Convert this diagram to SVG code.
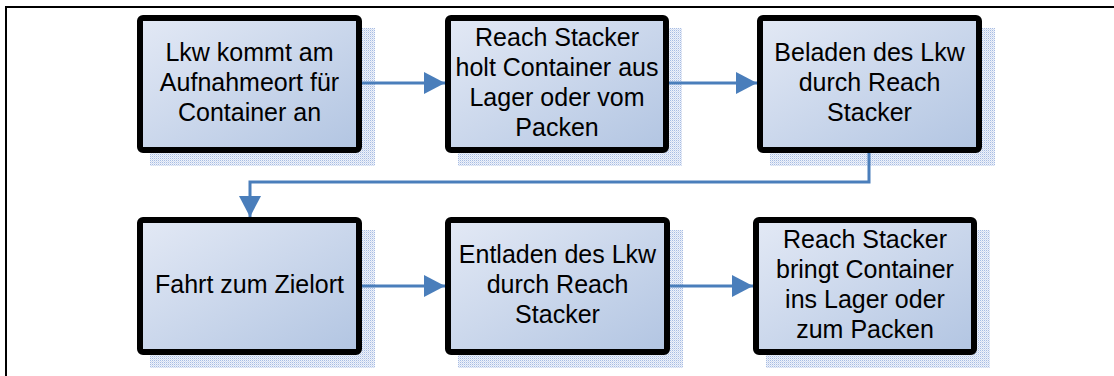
<svg xmlns="http://www.w3.org/2000/svg" width="1114" height="376" viewBox="0 0 1114 376">
  <style>
    .box { fill: url(#boxFill); stroke: #000; stroke-width: 6; }
    .shadow { fill: url(#dots); }
    .label { font-family: "Liberation Sans", Arial, sans-serif; font-size: 25px; fill: #000; text-anchor: middle; }
    .conn { fill: none; stroke: #4a7ebb; stroke-width: 3; marker-end: url(#arrow); }
    .frame { fill: none; stroke: #000; stroke-width: 2; }
  </style>
  <defs>
    <linearGradient id="boxFill" x1="0" y1="0" x2="1" y2="1">
      <stop offset="0" stop-color="#e3e9f5"/>
      <stop offset="1" stop-color="#b2c5e2"/>
    </linearGradient>
    <pattern id="dots" width="2" height="2" patternUnits="userSpaceOnUse">
      <rect width="2" height="2" fill="#eef2fa"/>
      <rect width="1" height="1" fill="#a7bce3"/>
      <rect x="1" y="1" width="1" height="1" fill="#d3ddf1"/>
    </pattern>
    <marker id="arrow" markerUnits="userSpaceOnUse" markerWidth="22" markerHeight="24" refX="21" refY="12" orient="auto">
      <path d="M0,1 L21,12 L0,23 Z" fill="#4a7ebb"/>
    </marker>
  </defs>

  <!-- outer frame -->
  <path class="frame" d="M6,376 L6,7 L1114,7"/>

  <g id="node-aufnahme">
    <rect class="shadow" x="150" y="28" width="225" height="138"/>
    <rect class="box" x="140" y="18" width="219" height="132" rx="3"/>
    <text class="label" x="249.5" y="61">Lkw kommt am</text>
    <text class="label" x="249.5" y="91">Aufnahmeort für</text>
    <text class="label" x="249.5" y="121">Container an</text>
  </g>

  <g id="node-holt">
    <rect class="shadow" x="458" y="28" width="224" height="138"/>
    <rect class="box" x="448" y="18" width="218" height="132" rx="3"/>
    <text class="label" x="557" y="46">Reach Stacker</text>
    <text class="label" x="557" y="76">holt Container aus</text>
    <text class="label" x="557" y="106">Lager oder vom</text>
    <text class="label" x="557" y="136">Packen</text>
  </g>

  <g id="node-beladen">
    <rect class="shadow" x="770" y="28" width="225" height="138"/>
    <rect class="box" x="760" y="18" width="219" height="132" rx="3"/>
    <text class="label" x="869.5" y="61">Beladen des Lkw</text>
    <text class="label" x="869.5" y="91">durch Reach</text>
    <text class="label" x="869.5" y="121">Stacker</text>
  </g>

  <g id="node-fahrt">
    <rect class="shadow" x="150" y="230" width="225" height="138"/>
    <rect class="box" x="140" y="220" width="219" height="132" rx="3"/>
    <text class="label" x="249.5" y="293">Fahrt zum Zielort</text>
  </g>

  <g id="node-entladen">
    <rect class="shadow" x="458" y="230" width="225" height="138"/>
    <rect class="box" x="448" y="220" width="219" height="132" rx="3"/>
    <text class="label" x="557.5" y="263">Entladen des Lkw</text>
    <text class="label" x="557.5" y="293">durch Reach</text>
    <text class="label" x="557.5" y="323">Stacker</text>
  </g>

  <g id="node-bringt">
    <rect class="shadow" x="766" y="230" width="224" height="138"/>
    <rect class="box" x="756" y="220" width="218" height="132" rx="3"/>
    <text class="label" x="865" y="248">Reach Stacker</text>
    <text class="label" x="865" y="278">bringt Container</text>
    <text class="label" x="865" y="308">ins Lager oder</text>
    <text class="label" x="865" y="338">zum Packen</text>
  </g>

  <g id="connectors">
    <path class="conn" d="M362,83 L445,83"/>
    <path class="conn" d="M669,83 L757,83"/>
    <path class="conn" d="M869,153 L869,182 L250,182 L250,217"/>
    <path class="conn" d="M362,286 L445,286"/>
    <path class="conn" d="M670,286 L753,286"/>
  </g>
</svg>
